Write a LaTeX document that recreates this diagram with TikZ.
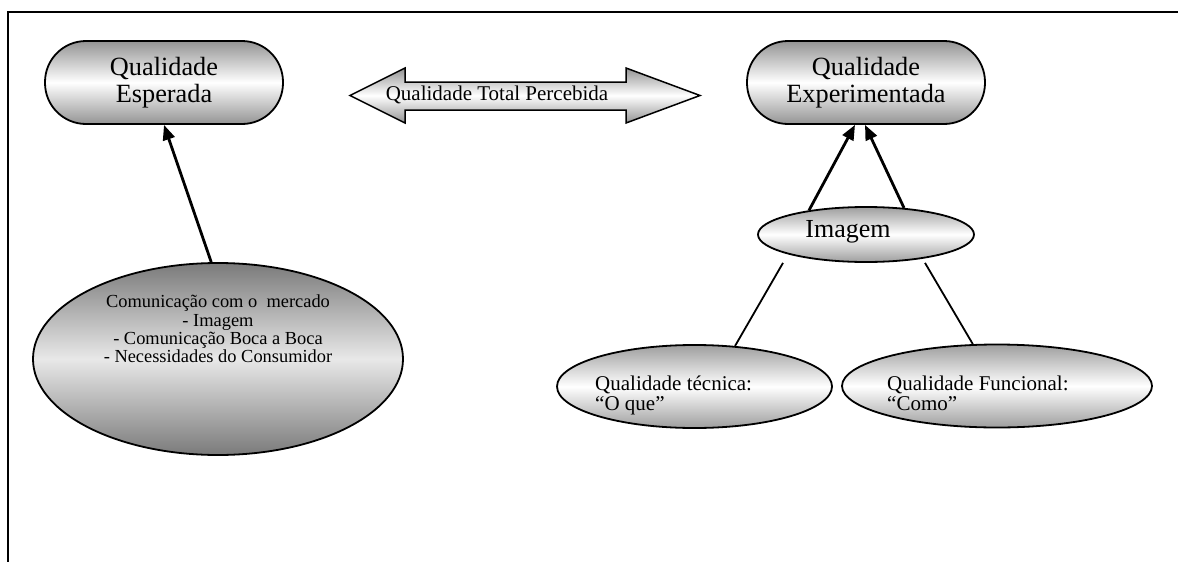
\documentclass[tikz,border=0pt]{standalone}
\usepackage{fontspec}
\setmainfont{Liberation Serif}
\usetikzlibrary{shapes.geometric,arrows.meta,calc}
\begin{document}
\begin{tikzpicture}[x=1pt,y=-1pt,
  pill/.style={draw, line width=1.8pt, rectangle, rounded corners=41pt, minimum width=238pt, minimum height=83pt, inner sep=0pt, top color=black!42, bottom color=black!42, middle color=white},
  oval/.style={draw, line width=1.8pt, ellipse, inner sep=0pt, top color=black!38, bottom color=black!38, middle color=white},
  bigtxt/.style={font=\fontsize{26.3}{27}\selectfont, align=center},
  midtxt/.style={font=\fontsize{21}{20}\selectfont, align=left, anchor=west, inner sep=0pt},
  arr/.style={line width=2.8pt, -{Triangle[length=15pt,width=12pt]}},
  ln/.style={line width=1.8pt},
]
\useasboundingbox (0,0) rectangle (1178,562);
\draw[line width=2.3pt] (1178,12) -- (8,12) -- (8,563);

% top boxes
\node[pill, bigtxt] (esp) at (164,82.5) {Qualidade\\Esperada};
\node[pill, bigtxt] (exp) at (866,82.5) {Qualidade\\Experimentada};

% double arrow
\path[draw, line width=1.5pt, top color=black!42, bottom color=black!42, middle color=white]
  (350,95.5) -- (405,68) -- (405,82) -- (626,82) -- (626,68) -- (700,95.5)
  -- (626,123) -- (626,110) -- (405,110) -- (405,123) -- cycle;
\node[font=\fontsize{21}{22}\selectfont] (qtp) at (497,95) {Qualidade Total Percebida};

% Imagem
\node[oval, minimum width=216pt, minimum height=55pt] (img) at (866,234.5) {};
\node[font=\fontsize{26}{27}\selectfont] (imgt) at (848,232) {Imagem};

% big ellipse
\node[oval, top color=black!52, bottom color=black!52, middle color=black!9, minimum width=370pt, minimum height=192pt] (big) at (218,359) {};
\node[font=\fontsize{18.4}{18.3}\selectfont, align=center] (bigt) at (218,329) {Comunicação com o\ \ mercado\\- Imagem\\- Comunicação Boca a Boca\\- Necessidades do Consumidor};

% bottom ellipses
\node[oval, minimum width=275pt, minimum height=83pt] (tec) at (694.5,386.5) {};
\node[midtxt] (tect) at (595,395) {Qualidade técnica:\\“O que”};
\node[oval, minimum width=310pt, minimum height=83pt] (fun) at (997,386) {};
\node[midtxt] (funt) at (887,393) {Qualidade Funcional:\\“Como”};

% connectors
\draw[arr] (big.94) -- (esp.south);
\draw[arr] (img.157) -- ($(exp.south)+(-11,0)$);
\draw[arr] (img.35) -- ($(exp.south)+(-1,0)$);
\draw[ln] ($(img.south)+(-83,0)$) -- (tec.45);
\draw[ln] ($(img.south)+(59,0)$) -- (fun.120);
\end{tikzpicture}
\end{document}
